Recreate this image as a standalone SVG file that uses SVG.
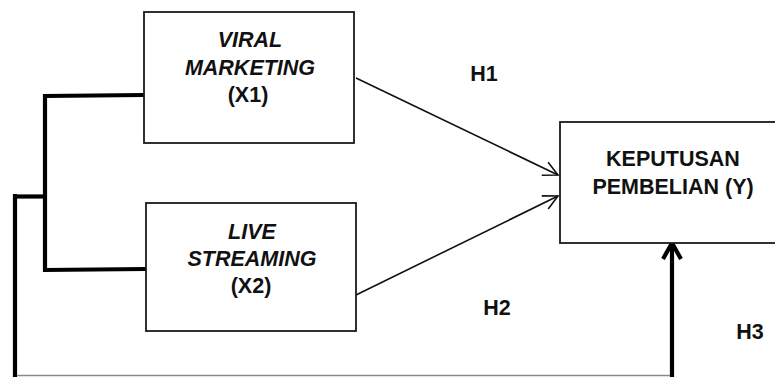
<svg xmlns="http://www.w3.org/2000/svg" width="775" height="377" viewBox="0 0 775 377">
<style>
  .box { fill: #ffffff; stroke: #1a1a1a; stroke-width: 1.8; }
  .t { font-family: "Liberation Sans", Arial, sans-serif; font-weight: bold; fill: #111111; text-anchor: middle; }
  .it { font-style: italic; }
  .thin { fill: none; stroke: #111111; stroke-width: 1.6; }
  .thick { fill: none; stroke: #000000; stroke-width: 4.2; }
  .base { fill: none; stroke: #8a8a8a; stroke-width: 1.6; }
</style>
<defs>
  <marker id="open" markerUnits="userSpaceOnUse" markerWidth="24" markerHeight="24" viewBox="-20 -12 24 24" refX="0" refY="0" orient="auto">
    <path d="M -14.5 -7.3 L 0 0 L -14.5 7.3" fill="none" stroke="#111111" stroke-width="1.6"/>
  </marker>
  <marker id="openThick" markerUnits="userSpaceOnUse" markerWidth="30" markerHeight="30" viewBox="-24 -15 30 30" refX="0" refY="0" orient="auto">
    <path d="M -16 -9 L 0 0 L -16 9" fill="none" stroke="#000000" stroke-width="4.2" stroke-linejoin="miter"/>
  </marker>
</defs>
<rect width="775" height="377" fill="#ffffff"/>

<g id="connectors">
  <line class="thin" x1="356" y1="78" x2="558" y2="175" marker-end="url(#open)"/>
  <line class="thin" x1="356" y1="295" x2="558" y2="196" marker-end="url(#open)"/>
  <polyline class="thick" points="144,95 45,96 45,270 146,269"/>
  <polyline class="thick" points="45,196.5 15,196.5"/>
  <line class="thick" x1="15" y1="194" x2="15" y2="377"/>
  <line class="base" x1="17" y1="375.5" x2="672" y2="375.5"/>
  <line class="thick" x1="672" y1="377" x2="672" y2="243" marker-end="url(#openThick)"/>
</g>

<g id="node-x1">
  <rect class="box" x="144" y="12" width="210" height="131"/>
  <text class="t it" x="250" y="47" font-size="21.5">VIRAL</text>
  <text class="t it" x="250" y="75" font-size="21.5">MARKETING</text>
  <text class="t" x="248" y="102" font-size="21.5">(X1)</text>
</g>

<g id="node-x2">
  <rect class="box" x="146" y="203" width="210" height="128"/>
  <text class="t it" x="252" y="239" font-size="21.5">LIVE</text>
  <text class="t it" x="252" y="266" font-size="21.5">STREAMING</text>
  <text class="t" x="251" y="293" font-size="21.5">(X2)</text>
</g>

<g id="node-y">
  <rect class="box" x="560" y="122" width="230" height="121"/>
  <text class="t" x="673" y="166" font-size="21.5">KEPUTUSAN</text>
  <text class="t" x="673" y="194" font-size="21.5">PEMBELIAN (Y)</text>
</g>

<g id="labels">
  <text class="t" x="484" y="81" font-size="21.5">H1</text>
  <text class="t" x="497" y="315" font-size="21.5">H2</text>
  <text class="t" x="750" y="339" font-size="21.5">H3</text>
</g>
</svg>
